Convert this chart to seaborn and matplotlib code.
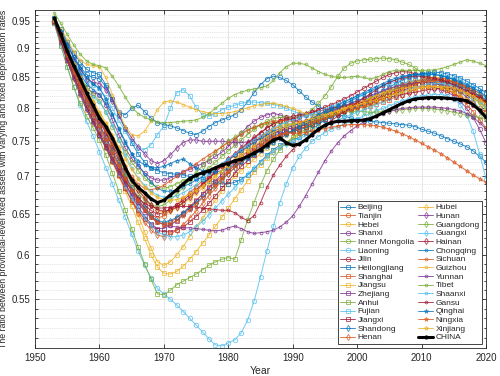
import matplotlib
matplotlib.use("Agg")
import matplotlib.pyplot as plt
from matplotlib.lines import Line2D
import seaborn as sns
import pandas as pd
from matplotlib.ticker import FixedLocator, NullFormatter

YEARS = list(range(1953, 2021))

# one list per province, 1953..2020
beijing = [.950, .925, .905, .885, .868, .855, .850,
           .848, .835, .815, .795, .790, .800, .805, .795, .785, .778,
           .775, .773, .770, .766, .762, .760, .765, .772, .778, .782,
           .786, .790, .798, .810, .825, .838, .848, .852, .850, .845,
           .838, .828, .818, .810, .803, .798, .795, .790, .788, .785,
           .782, .780, .780, .779, .778, .777, .776, .775, .774, .772,
           .768, .765, .762, .758, .754, .750, .746, .742, .736, .728, .720]
tianjin = [.948, .915, .885, .858, .835, .812, .792,
           .772, .752, .732, .712, .695, .680, .668, .658, .650, .645,
           .648, .655, .662, .670, .678, .686, .694, .700, .708, .716,
           .724, .730, .735, .742, .750, .756, .762, .768, .772, .770,
           .768, .770, .775, .782, .790, .796, .800, .802, .804, .806,
           .808, .810, .813, .818, .824, .830, .835, .840, .843, .845,
           .846, .846, .845, .843, .840, .836, .832, .828, .822, .815, .808]
hebei = [.945, .912, .880, .852, .828, .805, .785,
         .765, .748, .730, .712, .692, .672, .650, .628, .608, .592,
         .588, .592, .600, .610, .622, .634, .645, .656, .668, .680,
         .690, .700, .708, .716, .724, .732, .740, .748, .755, .760,
         .764, .768, .772, .778, .784, .790, .795, .798, .800, .802,
         .804, .806, .810, .815, .820, .826, .830, .834, .837, .840,
         .841, .842, .842, .841, .838, .834, .830, .825, .818, .810, .800]
shanxi = [.950, .920, .892, .866, .845, .832, .825,
          .822, .805, .782, .760, .740, .725, .715, .705, .698, .695,
          .695, .698, .702, .706, .710, .714, .718, .722, .728, .734,
          .742, .752, .762, .772, .780, .786, .790, .792, .790, .786,
          .782, .780, .780, .782, .786, .790, .794, .797, .798, .800,
          .802, .805, .808, .812, .816, .820, .824, .828, .832, .834,
          .835, .835, .833, .830, .826, .820, .812, .800, .786, .768, .748]
inner_mongolia = [.955, .928, .900, .875, .852, .835, .822,
                  .812, .795, .772, .752, .735, .720, .708, .698, .690, .685,
                  .684, .686, .690, .694, .698, .702, .706, .712, .720, .728,
                  .736, .744, .752, .760, .768, .775, .780, .784, .786, .786,
                  .786, .788, .792, .798, .808, .820, .835, .852, .866, .874,
                  .878, .880, .881, .882, .883, .882, .880, .876, .872, .866,
                  .858, .850, .842, .836, .832, .830, .826, .822, .816, .810, .802]
liaoning = [.945, .905, .868, .835, .805, .780, .758,
            .735, .712, .690, .668, .646, .625, .605, .588, .574, .562,
            .556, .550, .544, .537, .530, .523, .516, .509, .503, .502,
            .505, .508, .515, .528, .548, .575, .605, .635, .665, .690,
            .712, .728, .740, .750, .757, .763, .768, .772, .776, .780,
            .784, .788, .792, .796, .800, .804, .808, .812, .815, .818,
            .820, .821, .822, .822, .820, .815, .806, .790, .765, .732, .697]
jilin = [.950, .918, .888, .860, .836, .815, .798,
         .780, .762, .742, .722, .702, .685, .672, .662, .655, .650,
         .652, .657, .662, .668, .675, .682, .690, .698, .706, .714,
         .722, .730, .738, .746, .754, .762, .770, .776, .780, .782,
         .784, .786, .790, .794, .798, .802, .806, .810, .815, .820,
         .826, .832, .838, .844, .850, .855, .858, .860, .859, .856,
         .852, .847, .842, .836, .830, .824, .818, .812, .806, .800, .795]
heilongjiang = [.955, .935, .912, .892, .876, .864, .858,
                .855, .838, .815, .790, .768, .748, .732, .720, .712, .708,
                .705, .704, .703, .702, .700, .698, .696, .694, .692, .690,
                .690, .692, .696, .702, .710, .720, .730, .738, .744, .748,
                .752, .756, .762, .768, .775, .782, .790, .796, .800, .804,
                .808, .812, .817, .822, .828, .834, .840, .845, .850, .853,
                .856, .858, .859, .858, .856, .853, .849, .844, .838, .832, .825]
shanghai = [.952, .920, .890, .862, .838, .815, .795,
            .775, .755, .735, .715, .696, .680, .666, .655, .646, .640,
            .638, .640, .645, .652, .660, .668, .676, .684, .692, .700,
            .708, .716, .724, .732, .740, .748, .756, .762, .766, .768,
            .770, .772, .776, .780, .785, .790, .794, .797, .799, .800,
            .801, .802, .804, .807, .810, .814, .818, .822, .826, .830,
            .834, .836, .836, .834, .830, .824, .816, .806, .795, .782, .770]
jiangsu = [.948, .912, .878, .848, .822, .798, .778,
           .758, .740, .720, .700, .680, .660, .640, .620, .600, .586,
           .579, .578, .581, .587, .595, .604, .614, .624, .635, .646,
           .658, .670, .682, .694, .706, .716, .726, .734, .742, .748,
           .754, .760, .766, .772, .778, .784, .789, .793, .796, .798,
           .800, .803, .806, .810, .815, .820, .826, .832, .838, .843,
           .846, .848, .849, .849, .847, .844, .840, .835, .828, .820, .812]
zhejiang = [.950, .916, .884, .855, .830, .808, .788,
            .768, .748, .728, .708, .690, .674, .660, .648, .638, .632,
            .632, .636, .642, .650, .658, .667, .676, .685, .694, .703,
            .712, .720, .728, .735, .742, .748, .754, .760, .765, .768,
            .770, .772, .775, .779, .783, .787, .791, .795, .799, .803,
            .807, .811, .815, .819, .823, .827, .831, .835, .838, .840,
            .842, .843, .843, .842, .840, .837, .833, .828, .822, .815, .808]
anhui = [.945, .905, .868, .835, .808, .788, .770,
         .752, .730, .705, .680, .655, .632, .610, .590, .572, .556,
         .555, .560, .566, .570, .574, .578, .583, .588, .592, .595,
         .597, .595, .618, .643, .665, .688, .708, .724, .738, .748,
         .756, .762, .768, .774, .780, .786, .791, .796, .800, .804,
         .808, .812, .816, .820, .824, .828, .832, .836, .840, .843,
         .845, .846, .846, .845, .843, .840, .836, .832, .826, .820, .813]
fujian = [.952, .925, .900, .878, .860, .846, .838,
          .832, .818, .800, .782, .765, .750, .740, .738, .745, .760,
          .772, .800, .825, .830, .820, .802, .790, .788, .792, .798,
          .802, .805, .808, .810, .810, .809, .808, .806, .804, .800,
          .796, .792, .790, .790, .791, .793, .796, .800, .804, .808,
          .812, .816, .820, .824, .828, .832, .836, .840, .843, .845,
          .846, .846, .845, .843, .840, .836, .830, .822, .812, .800, .788]
jiangxi = [.948, .912, .880, .850, .824, .800, .780,
           .760, .742, .722, .702, .684, .668, .655, .644, .636, .630,
           .628, .628, .630, .634, .640, .647, .655, .664, .674, .684,
           .694, .704, .714, .722, .730, .738, .745, .752, .758, .762,
           .765, .768, .772, .776, .780, .784, .788, .792, .796, .800,
           .804, .808, .812, .816, .820, .824, .828, .832, .836, .840,
           .843, .845, .846, .846, .845, .842, .838, .833, .826, .818, .810]
shandong = [.950, .918, .888, .860, .836, .814, .794,
            .775, .756, .737, .718, .700, .684, .670, .658, .648, .642,
            .640, .642, .646, .652, .658, .665, .672, .680, .688, .696,
            .704, .712, .720, .728, .736, .744, .752, .758, .762, .764,
            .765, .767, .770, .774, .778, .782, .786, .790, .794, .798,
            .802, .806, .810, .815, .820, .825, .830, .835, .839, .842,
            .844, .845, .845, .844, .842, .839, .835, .831, .826, .820, .814]
henan = [.950, .915, .882, .852, .826, .802, .782,
         .762, .742, .722, .702, .684, .667, .652, .640, .630, .624,
         .622, .625, .630, .637, .645, .654, .664, .674, .684, .694,
         .704, .712, .720, .728, .735, .742, .749, .755, .760, .763,
         .765, .768, .772, .777, .782, .787, .791, .795, .798, .801,
         .804, .807, .811, .815, .820, .825, .830, .835, .839, .843,
         .846, .848, .849, .849, .847, .843, .838, .832, .825, .817, .808]
hubei = [.952, .922, .894, .868, .845, .825, .808,
         .792, .775, .755, .735, .715, .698, .684, .672, .662, .655,
         .652, .654, .658, .664, .670, .677, .684, .692, .700, .708,
         .716, .724, .732, .740, .748, .756, .763, .769, .773, .775,
         .776, .778, .781, .785, .789, .793, .797, .800, .803, .806,
         .809, .812, .816, .820, .825, .830, .834, .838, .841, .843,
         .844, .844, .843, .841, .838, .834, .829, .823, .816, .808, .800]
hunan = [.952, .930, .906, .884, .864, .848, .842,
         .840, .830, .812, .790, .770, .755, .742, .732, .722, .718,
         .722, .730, .740, .748, .752, .752, .750, .750, .750, .750,
         .749, .748, .748, .749, .751, .754, .758, .762, .766, .770,
         .773, .776, .780, .784, .788, .792, .796, .800, .804, .808,
         .812, .816, .820, .824, .828, .832, .835, .838, .840, .841,
         .842, .842, .841, .839, .836, .832, .826, .818, .808, .796, .784]
guangdong = [.955, .925, .895, .868, .845, .825, .808,
             .790, .770, .748, .726, .706, .690, .678, .668, .662, .660,
             .662, .668, .676, .685, .695, .705, .715, .725, .734, .742,
             .750, .756, .762, .767, .771, .774, .776, .777, .777, .776,
             .776, .776, .778, .780, .783, .786, .789, .792, .794, .795,
             .795, .795, .794, .794, .795, .796, .797, .798, .799, .800,
             .800, .800, .799, .798, .796, .794, .792, .790, .788, .786, .784]
guangxi = [.948, .912, .880, .850, .824, .800, .780,
           .762, .744, .724, .705, .688, .672, .658, .646, .636, .628,
           .624, .622, .622, .624, .628, .634, .641, .649, .658, .667,
           .676, .685, .694, .703, .712, .720, .728, .735, .741, .746,
           .750, .754, .758, .763, .768, .773, .778, .782, .786, .790,
           .794, .798, .802, .806, .811, .816, .821, .826, .830, .834,
           .837, .839, .840, .840, .839, .836, .832, .827, .820, .812, .803]
hainan = [.952, .922, .893, .866, .842, .820, .800,
          .782, .764, .745, .727, .710, .695, .682, .671, .662, .656,
          .654, .655, .659, .665, .672, .680, .688, .697, .706, .715,
          .724, .732, .740, .748, .756, .763, .770, .776, .781, .785,
          .788, .790, .792, .794, .796, .798, .800, .802, .804, .806,
          .808, .810, .812, .814, .816, .818, .820, .822, .824, .826,
          .828, .830, .831, .832, .832, .831, .829, .826, .822, .817, .811]
chongqing = [.952, .926, .900, .876, .856, .840, .830,
             .822, .808, .790, .770, .750, .732, .716, .703, .692, .684,
             .680, .680, .682, .686, .690, .695, .700, .706, .712, .718,
             .724, .730, .736, .742, .748, .754, .760, .765, .769, .772,
             .774, .776, .779, .783, .787, .792, .797, .802, .807, .812,
             .817, .822, .827, .832, .837, .842, .846, .850, .853, .855,
             .856, .856, .855, .853, .850, .846, .841, .836, .830, .824, .818]
sichuan = [.950, .920, .890, .863, .839, .818, .800,
           .783, .766, .748, .730, .714, .700, .690, .684, .682, .684,
           .688, .694, .700, .706, .712, .718, .724, .730, .736, .742,
           .748, .754, .760, .766, .771, .775, .778, .780, .781, .781,
           .780, .779, .779, .780, .782, .785, .788, .791, .794, .797,
           .800, .803, .807, .811, .815, .820, .825, .830, .835, .839,
           .842, .844, .845, .845, .844, .842, .839, .835, .830, .824, .818]
guizhou = [.955, .935, .915, .895, .880, .872, .870,
           .868, .850, .822, .795, .772, .760, .758, .765, .780, .798,
           .810, .812, .810, .806, .802, .798, .795, .793, .792, .792,
           .793, .795, .798, .801, .804, .806, .808, .808, .806, .803,
           .800, .796, .792, .790, .790, .791, .793, .796, .800, .804,
           .808, .812, .816, .820, .824, .827, .830, .832, .834, .835,
           .836, .836, .835, .833, .830, .826, .821, .815, .808, .800, .792]
yunnan = [.948, .912, .878, .848, .822, .798, .778,
          .758, .740, .722, .705, .690, .676, .664, .654, .646, .640,
          .637, .635, .634, .633, .633, .632, .631, .630, .629, .630,
          .633, .635, .632, .628, .626, .627, .628, .630, .634, .640,
          .648, .660, .674, .690, .706, .722, .736, .748, .758, .766,
          .773, .779, .784, .788, .792, .795, .798, .800, .801, .802,
          .802, .802, .802, .801, .800, .798, .796, .792, .786, .778, .768]
tibet = [.965, .945, .925, .906, .890, .878, .872,
         .870, .866, .852, .836, .818, .802, .792, .786, .782, .779,
         .778, .778, .779, .780, .781, .782, .786, .792, .800, .808,
         .816, .822, .826, .829, .831, .833, .836, .845, .858, .868,
         .874, .874, .872, .866, .860, .855, .852, .850, .850, .851,
         .852, .850, .847, .850, .855, .860, .862, .862, .862, .862,
         .862, .862, .863, .865, .868, .872, .876, .880, .878, .874, .870]
shaanxi = [.950, .922, .895, .870, .848, .830, .818,
           .810, .795, .775, .752, .730, .712, .698, .688, .680, .675,
           .672, .672, .674, .678, .683, .689, .696, .703, .710, .717,
           .724, .731, .738, .745, .752, .758, .764, .770, .775, .779,
           .782, .785, .788, .791, .795, .799, .803, .807, .811, .815,
           .819, .823, .827, .831, .835, .839, .843, .847, .850, .852,
           .854, .855, .855, .854, .852, .849, .845, .840, .834, .826, .818]
gansu = [.948, .914, .882, .853, .827, .803, .782,
         .762, .744, .726, .709, .694, .681, .671, .664, .660, .658,
         .658, .659, .660, .660, .660, .659, .658, .657, .656, .655,
         .655, .652, .646, .642, .648, .665, .685, .702, .716, .728,
         .738, .746, .753, .760, .767, .774, .781, .788, .795, .802,
         .809, .816, .823, .830, .836, .842, .846, .849, .851, .852,
         .852, .851, .849, .846, .842, .838, .833, .828, .822, .816, .810]
qinghai = [.955, .932, .908, .886, .866, .850, .840,
           .832, .815, .792, .768, .748, .732, .722, .716, .712, .712,
           .714, .718, .722, .724, .718, .712, .708, .706, .706, .708,
           .712, .716, .720, .725, .730, .736, .742, .748, .754, .760,
           .766, .772, .778, .784, .790, .795, .800, .805, .810, .815,
           .820, .825, .830, .835, .840, .845, .849, .852, .854, .855,
           .856, .856, .855, .853, .850, .847, .843, .838, .833, .827, .820]
ningxia = [.950, .918, .888, .860, .835, .812, .792,
           .773, .754, .735, .716, .698, .682, .668, .656, .646, .640,
           .637, .638, .642, .648, .655, .663, .671, .680, .689, .698,
           .707, .715, .723, .731, .738, .745, .751, .756, .760, .762,
           .762, .762, .763, .765, .767, .769, .771, .773, .774, .775,
           .775, .775, .774, .773, .771, .768, .765, .761, .757, .752,
           .747, .742, .737, .732, .726, .720, .714, .708, .702, .697, .692]
xinjiang = [.952, .924, .897, .872, .850, .830, .812,
            .795, .778, .760, .742, .725, .710, .697, .686, .678, .672,
            .669, .668, .669, .672, .676, .681, .687, .694, .701, .708,
            .715, .722, .729, .736, .743, .750, .757, .763, .768, .772,
            .775, .778, .781, .784, .787, .790, .793, .796, .799, .802,
            .805, .808, .811, .814, .817, .820, .823, .826, .829, .831,
            .833, .834, .835, .835, .834, .832, .829, .825, .820, .814, .807]
china = [.955, .925, .895, .870, .848, .825, .805,
         .785, .772, .755, .735, .712, .695, .685, .678, .670, .665,
         .668, .675, .682, .690, .697, .702, .705, .708, .712, .716,
         .718, .722, .724, .728, .733, .738, .745, .752, .755, .748,
         .744, .746, .752, .760, .768, .774, .778, .780, .780, .781,
         .781, .782, .784, .788, .793, .798, .803, .808, .812, .815,
         .816, .817, .817, .817, .816, .815, .814, .812, .806, .797, .786]

PROVINCES = ["Beijing", "Tianjin", "Hebei", "Shanxi", "Inner Mongolia", "Liaoning",
             "Jilin", "Heilongjiang", "Shanghai", "Jiangsu", "Zhejiang", "Anhui",
             "Fujian", "Jiangxi", "Shandong", "Henan", "Hubei", "Hunan", "Guangdong",
             "Guangxi", "Hainan", "Chongqing", "Sichuan", "Guizhou", "Yunnan", "Tibet",
             "Shaanxi", "Gansu", "Qinghai", "Ningxia", "Xinjiang"]
VALUES = [beijing, tianjin, hebei, shanxi, inner_mongolia, liaoning, jilin,
          heilongjiang, shanghai, jiangsu, zhejiang, anhui, fujian, jiangxi,
          shandong, henan, hubei, hunan, guangdong, guangxi, hainan,
          chongqing, sichuan, guizhou, yunnan, tibet, shaanxi, gansu,
          qinghai, ningxia, xinjiang]

# matlab default colour order, markers change every 7 lines
COLORS = ["#0072BD", "#D95319", "#EDB120", "#7E2F8E", "#77AC30", "#4DBEEE", "#A2142F"]
MARKERS = ["o", "s", "d", ".", "*"]

rows = []
for name, vals in zip(PROVINCES, VALUES):
    for yr, v in zip(YEARS, vals):
        rows.append((name, yr, v))
df = pd.DataFrame(rows, columns=["province", "year", "ratio"])
df_china = pd.DataFrame({"year": YEARS, "ratio": china})

sns.set_style("ticks")
plt.rcParams["font.family"] = ["Liberation Sans", "DejaVu Sans"]

fig = plt.figure(figsize=(5.0, 3.76), dpi=100)
ax = fig.add_axes([0.07, 0.0745, 0.902, 0.8985])

handles = []
for i, name in enumerate(PROVINCES):
    c = COLORS[i % 7]
    m = MARKERS[i // 7]
    ms = 4 if m == "." else 3.2
    sns.lineplot(data=df[df["province"] == name], x="year", y="ratio", ax=ax,
                 color=c, marker=m, markersize=ms,
                 markerfacecolor="none", markeredgecolor=c, markeredgewidth=0.6,
                 linewidth=0.7, alpha=0.8, legend=False)
    handles.append(Line2D([], [], color=c, marker=m, markersize=ms, markerfacecolor="none",
                          markeredgecolor=c, markeredgewidth=0.6, linewidth=0.7,
                          alpha=0.8, label=name))

sns.lineplot(data=df_china, x="year", y="ratio", ax=ax, color="black", marker=".",
             markersize=4, markeredgecolor="black", linewidth=2.2, legend=False)
handles.append(Line2D([], [], color="black", marker=".", markersize=4,
                      markeredgecolor="black", linewidth=2.2, label="CHINA"))

ax.set_yscale("log")
ax.set_xlim(1950, 2020)
ax.set_ylim(0.5, 0.97)
major = [0.55, 0.6, 0.65, 0.7, 0.75, 0.8, 0.85, 0.9, 0.95]
ax.yaxis.set_major_locator(FixedLocator(major))
ax.set_yticklabels(["0.55", "0.6", "0.65", "0.7", "0.75", "0.8", "0.85", "0.9", "0.95"])
minor = [round(0.51 + 0.01 * k, 2) for k in range(46)]
minor = [v for v in minor if all(abs(v - mj) > 1e-6 for mj in major)]
ax.yaxis.set_minor_locator(FixedLocator(minor))
ax.yaxis.set_minor_formatter(NullFormatter())
ax.set_xticks(range(1950, 2021, 10))

ax.grid(True, which="major", color="#e3e3e3", linewidth=0.6)
ax.grid(True, which="minor", axis="y", color="#cfcfcf", linestyle=":", linewidth=0.5)
ax.set_axisbelow(True)

ax.tick_params(which="both", direction="in", top=True, right=True, colors="#262626",
               labelsize=7, width=0.6)
ax.tick_params(which="major", length=3)
ax.tick_params(which="minor", length=1.8)
for s in ax.spines.values():
    s.set_color("#262626")
    s.set_linewidth(0.6)

ax.set_xlabel("Year", fontsize=7.5, color="#262626", labelpad=2)
ax.set_ylabel("The ratio between provincial-level fixed assets with varying and fixed depreciation rates",
              fontsize=6.3, color="#262626", labelpad=2)

leg = ax.legend(handles=handles, ncol=2, loc="lower right", bbox_to_anchor=(0.992, 0.012),
                borderaxespad=0, fontsize=6.0, frameon=True, fancybox=False,
                edgecolor="#262626", handlelength=1.8, handletextpad=0.3,
                columnspacing=0.5, labelspacing=0.1, borderpad=0.3)
leg.get_frame().set_linewidth(0.6)
leg.get_frame().set_alpha(1)

fig.savefig("out.png", dpi=100)
